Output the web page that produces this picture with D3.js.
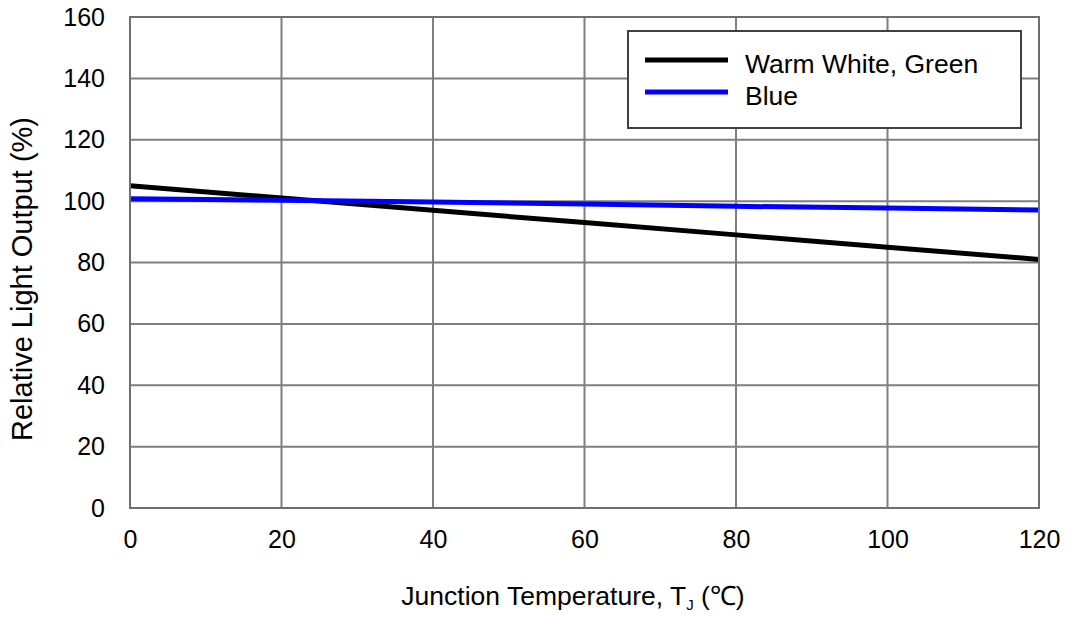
<!DOCTYPE html>
<html>
<head>
<meta charset="utf-8">
<script src="https://cdn.jsdelivr.net/npm/d3@7"></script>
<style>
  html, body { margin: 0; padding: 0; background: #fff; }
  svg { display: block; font-family: "Liberation Sans", Arial, sans-serif; }
</style>
</head>
<body>
<svg id="chart" width="1070" height="618"></svg>
<script>
// Junction temperature (°C)
const temps = [0, 20, 40, 60, 80, 100, 120];
// Relative light output (%)
const warmWhiteGreen = [105, 101, 97, 93, 89, 85, 81];
const blue = [100.8, 100.3, 99.7, 99.1, 98.3, 97.8, 97.1];
const seriesNames = ["Warm White, Green", "Blue"];
const seriesColors = ["#000000", "#0000ff"];
const xTicks = [0, 20, 40, 60, 80, 100, 120];
const yTicks = [0, 20, 40, 60, 80, 100, 120, 140, 160];

const svg = d3.select("#chart");
const plot = { left: 130, top: 17, right: 1039, bottom: 508 };

const x = d3.scaleLinear().domain([0, 120]).range([plot.left, plot.right]);
const y = d3.scaleLinear().domain([0, 160]).range([plot.bottom, plot.top]);

// grid
const grid = svg.append("g").attr("stroke", "#7f7f7f").attr("stroke-width", 2);
grid.selectAll("line.v").data(xTicks).join("line")
  .attr("x1", d => x(d)).attr("x2", d => x(d))
  .attr("y1", y(0)).attr("y2", y(160));
grid.selectAll("line.h").data(yTicks).join("line")
  .attr("y1", d => y(d)).attr("y2", d => y(d))
  .attr("x1", x(0)).attr("x2", x(120));

// axes (labels only)
const xAxis = svg.append("g")
  .attr("transform", `translate(0,${y(0)})`)
  .call(d3.axisBottom(x).tickValues(xTicks).tickSize(0).tickPadding(0).tickFormat(d3.format("d")));
const yAxis = svg.append("g")
  .attr("transform", `translate(${x(0)},0)`)
  .call(d3.axisLeft(y).tickValues(yTicks).tickSize(0).tickPadding(25).tickFormat(d3.format("d")));
[xAxis, yAxis].forEach(a => {
  a.select(".domain").remove();
  a.selectAll("text").attr("font-size", 25).attr("fill", "#000")
    .attr("font-family", "Liberation Sans, Arial, sans-serif");
});
xAxis.selectAll("text").attr("y", 40).attr("dy", null);

// series
const line = d3.line().x(d => x(d[0])).y(d => y(d[1]));
[warmWhiteGreen, blue].forEach((vals, i) => {
  svg.append("path")
    .datum(temps.map((t, j) => [t, vals[j]]))
    .attr("d", line)
    .attr("fill", "none")
    .attr("stroke", seriesColors[i])
    .attr("stroke-width", 5);
});

// legend
const lg = svg.append("g");
lg.append("rect").attr("x", 628).attr("y", 31).attr("width", 393).attr("height", 97)
  .attr("fill", "#fff").attr("stroke", "#404040").attr("stroke-width", 2);
seriesNames.forEach((name, i) => {
  const yy = 60 + i * 32;
  lg.append("line").attr("x1", 645).attr("x2", 728).attr("y1", yy).attr("y2", yy)
    .attr("stroke", seriesColors[i]).attr("stroke-width", 5);
  lg.append("text").attr("x", 745).attr("y", yy + 13)
    .attr("font-size", 26.5).attr("fill", "#000").text(name);
});

// plot border
svg.append("rect").attr("x", x(0)).attr("y", y(160))
  .attr("width", x(120) - x(0)).attr("height", y(0) - y(160))
  .attr("fill", "none").attr("stroke", "#6f6f6f").attr("stroke-width", 2);

// axis titles
const xt = svg.append("text").attr("x", 573).attr("y", 605)
  .attr("text-anchor", "middle").attr("font-size", 26.5).attr("fill", "#000");
xt.append("tspan").text("Junction Temperature, T");
xt.append("tspan").attr("font-size", 15).attr("dy", 5).text("J");
xt.append("tspan").attr("dy", -5).text(" (\u2103)");

svg.append("text")
  .attr("transform", "translate(32,279) rotate(-90)")
  .attr("text-anchor", "middle").attr("font-size", 29).attr("fill", "#000")
  .text("Relative Light Output (%)");
</script>
</body>
</html>
